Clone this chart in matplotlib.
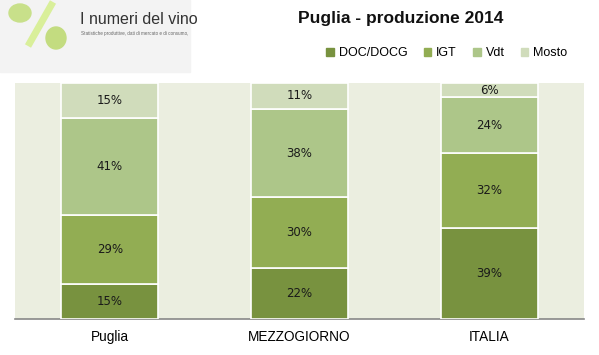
import numpy as np
import matplotlib.pyplot as plt
from matplotlib.patches import Ellipse, Rectangle
from matplotlib.lines import Line2D

categories = ["Puglia", "MEZZOGIORNO", "ITALIA"]
series = ["DOC/DOCG", "IGT", "Vdt", "Mosto"]
doc = [15, 22, 39]
igt = [29, 30, 32]
vdt = [41, 38, 24]
mosto = [15, 11, 6]
colors = ["#78923f", "#92ad53", "#adc689", "#d0dcbb"]

plt.rcParams['font.family'] = ['Liberation Sans', 'DejaVu Sans']

W, H = 599, 355
fig = plt.figure(figsize=(W / 100, H / 100), dpi=100)
ax = fig.add_axes([15 / W, 1 - 319 / H, 569 / W, 236 / H])
ax.set_facecolor("#ebeee0")

vals = np.array([doc, igt, vdt, mosto], dtype=float)
totals = vals.sum(axis=0)
x = np.arange(len(categories))
bottom = np.zeros(len(categories))
for i, name in enumerate(series):
    h = vals[i] / totals * 100
    ax.bar(x, h, 0.51, bottom=bottom, color=colors[i], edgecolor="white",
           linewidth=1.2, label=name, zorder=3)
    for j in range(len(categories)):
        ax.text(x[j], bottom[j] + h[j] / 2, f"{int(vals[i][j])}%",
                ha="center", va="center", fontsize=8.5, color="#1a1a1a",
                family="DejaVu Sans", zorder=4)
    bottom += h

ax.set_xlim(-0.5, 2.5)
ax.set_ylim(0, 100)
ax.set_yticks([])
ax.set_xticks(x)
ax.set_xticklabels(categories, fontsize=9.8)
ax.tick_params(axis="x", length=0, pad=8)
for s in ["top", "left", "right"]:
    ax.spines[s].set_visible(False)
ax.spines["bottom"].set_color("#888888")
ax.spines["bottom"].set_linewidth(1.2)

fig.text(401 / W, 1 - 18 / H, "Puglia - produzione 2014", ha="center", va="center",
         fontsize=12.5, fontweight="bold", color="#111111")

handles = [Rectangle((0, 0), 1, 1, color=c) for c in colors]
fig.legend(handles, series, loc="center", bbox_to_anchor=(447 / W, 1 - 53 / H), ncol=4,
           frameon=False, fontsize=9, handlelength=0.6, handleheight=0.6,
           handletextpad=0.4, columnspacing=1.3)

# logo
fig.patches.append(Rectangle((0, 1 - 72 / H), 190 / W, 72 / H, transform=fig.transFigure,
                             color="#f3f3f3", zorder=0))
fig.lines.append(Line2D([28 / W, 53 / W], [1 - 46 / H, 1 - 2 / H], transform=fig.transFigure,
                        color="#d9ef9a", linewidth=5, solid_capstyle="butt"))
fig.patches.append(Ellipse((20 / W, 1 - 13 / H), 22 / W, 18 / H, transform=fig.transFigure,
                           color="#c8e08a"))
fig.patches.append(Ellipse((56 / W, 1 - 38 / H), 20 / W, 22 / H, transform=fig.transFigure,
                           color="#c3dc80"))
fig.text(80 / W, 1 - 19 / H, "I numeri del vino", ha="left", va="center",
         fontsize=11.5, color="#333333")
fig.text(81 / W, 1 - 33 / H, "Statistiche produttive, dati di mercato e di consumo,",
         ha="left", va="center", fontsize=3.3, color="#666666")

fig.savefig("out.png", dpi=100)
